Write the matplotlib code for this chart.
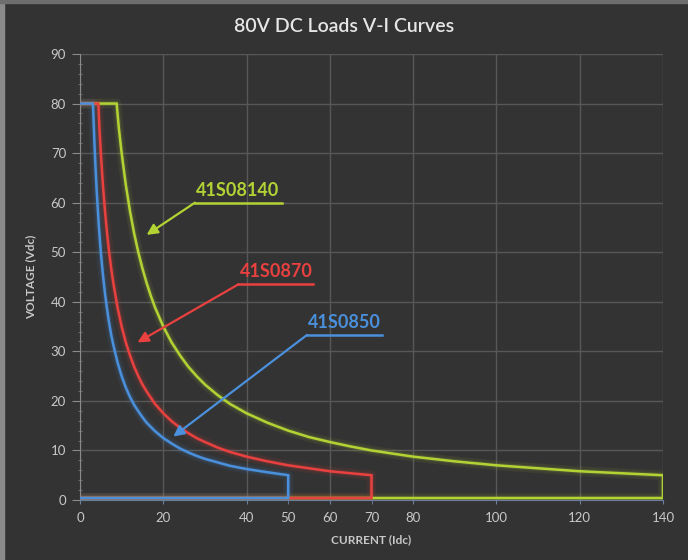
import matplotlib.pyplot as plt
from matplotlib.ticker import MultipleLocator, FixedLocator
from matplotlib.patches import Rectangle

plt.rcParams['font.family'] = ['Lato', 'DejaVu Sans']

# V-I curves (current in A, voltage in V)
blue_i = [0, 3.1, 3.3, 3.5, 3.75, 4, 4.5, 5, 5.5, 6, 6.5, 7, 7.5, 8, 9, 10, 11, 12, 13, 14, 15, 16, 18, 20,
          22, 24, 26, 28, 30, 33, 36, 40, 45, 50, 50, 0]
blue_v = [80, 80, 75.8, 71.4, 66.7, 62.5, 55.6, 50, 45.5, 41.7, 38.5, 35.7, 33.3, 31.3, 27.8, 25, 22.7, 20.8,
          19.2, 17.9, 16.7, 15.6, 13.9, 12.5, 11.4, 10.4, 9.6, 8.9, 8.3, 7.6, 6.9, 6.25, 5.6, 5, 0.4, 0.4]

red_i = [0, 4.4, 4.7, 5, 5.5, 6, 6.5, 7, 7.5, 8, 9, 10, 11, 12, 13, 14, 15, 16, 18, 20, 22, 24, 26, 28, 30,
         33, 36, 40, 45, 50, 55, 60, 65, 70, 70, 0]
red_v = [80, 80, 74.5, 70, 63.6, 58.3, 53.8, 50, 46.7, 43.8, 38.9, 35, 31.8, 29.2, 26.9, 25, 23.3, 21.9, 19.4,
         17.5, 15.9, 14.6, 13.5, 12.5, 11.7, 10.6, 9.7, 8.75, 7.8, 7, 6.4, 5.8, 5.4, 5, 0.4, 0.4]

green_i = [0, 8.8, 9.3, 10, 11, 12, 13, 14, 15, 16, 17, 18, 20, 22, 24, 26, 28, 30, 33, 36, 40, 45, 50, 55,
           60, 65, 70, 80, 90, 100, 110, 120, 130, 140, 140, 0]
green_v = [80, 80, 75.3, 70, 63.6, 58.3, 53.8, 50, 46.7, 43.8, 41.2, 38.9, 35, 31.8, 29.2, 26.9, 25, 23.3,
           21.2, 19.4, 17.5, 15.6, 14, 12.7, 11.7, 10.8, 10, 8.75, 7.8, 7, 6.4, 5.8, 5.4, 5, 0.4, 0.4]

labels = ['41S08140', '41S0870', '41S0850']
# label underline (left I, right I, V) and arrow tip (I, V)
label_line = [(27.6, 48.5, 60), (38, 56, 43.5), (54.5, 72.5, 33.3)]
arrow_tip = [(16, 53.5), (13.8, 31.8), (22.4, 12.8)]

bg = '#333333'
green = '#b3d335'
red = '#e8413f'
blue = '#4a90dc'
txt = '#c8c8c8'

fig = plt.figure(figsize=(6.88, 5.6), dpi=100, facecolor=bg)
ax = fig.add_axes([80/688, 1-500/560, 583/688, 446/560])
ax.set_facecolor(bg)

# light frame on left/top edge
fig.patches.append(Rectangle((0, 0), 4/688, 1, transform=fig.transFigure, color='#8a8a8a', zorder=0))
fig.patches.append(Rectangle((0, 1-3/560), 1, 3/560, transform=fig.transFigure, color='#6e6e6e', zorder=0))

for xs, ys, c in [(green_i, green_v, green), (red_i, red_v, red), (blue_i, blue_v, blue)]:
    ax.plot(xs, ys, color=c, lw=7, alpha=0.08, solid_joinstyle='round', zorder=3)
    ax.plot(xs, ys, color=c, lw=3.5, alpha=0.15, solid_joinstyle='round', zorder=3)
    ax.plot(xs, ys, color=c, lw=1.8, solid_joinstyle='miter', zorder=4)

for name, (x0, x1, yl), (tx, ty), c in zip(labels, label_line, arrow_tip, [green, red, blue]):
    ax.plot([x0, x1], [yl, yl], color=c, lw=1.8, zorder=5)
    ax.text(x0 + 0.3, yl + 0.8, name, color=c, fontsize=13, fontweight='bold', ha='left', va='bottom', zorder=5)
    ax.annotate('', xy=(tx, ty), xytext=(x0, yl),
                arrowprops=dict(arrowstyle='-|>', color=c, lw=1.6, mutation_scale=16, shrinkA=0, shrinkB=0),
                zorder=5)

ax.set_xlim(0, 140)
ax.set_ylim(0, 90)
ax.xaxis.set_major_locator(MultipleLocator(20))
ax.xaxis.set_minor_locator(FixedLocator([50, 70]))
ax.xaxis.set_minor_formatter(plt.FuncFormatter(lambda v, p: f'{v:.0f}'))
ax.yaxis.set_major_locator(MultipleLocator(10))
ax.yaxis.set_minor_locator(MultipleLocator(2))
ax.grid(True, which='major', color='#575757', lw=1)
ax.set_axisbelow(True)

ax.tick_params(axis='x', which='both', colors='#6a7fa0', labelcolor=txt, labelsize=9.5, length=3, pad=6)
ax.tick_params(axis='y', which='major', colors='#8a8a8a', labelcolor=txt, labelsize=9.5, length=6, pad=4)
ax.tick_params(axis='y', which='minor', colors='#777777', length=3, direction='inout')
for s in ['top', 'right']:
    ax.spines[s].set_visible(False)
ax.spines['left'].set_color('#8a8a8a')
ax.spines['bottom'].set_color('#6a7fa0')

fig.text(344/688, 1-26/560, '80V DC Loads V-I Curves', color='#e6e6e6', fontsize=14, fontweight='semibold',
         ha='center', va='center')
fig.text(371/688, 1-540/560, 'CURRENT (Idc)', color=txt, fontsize=8.5, fontweight='bold', ha='center', va='center')
fig.text(31/688, 1-277/560, 'VOLTAGE (Vdc)', color=txt, fontsize=8.5, fontweight='bold', ha='center', va='center',
         rotation=90)

fig.savefig('out.png', dpi=100, facecolor=bg)
